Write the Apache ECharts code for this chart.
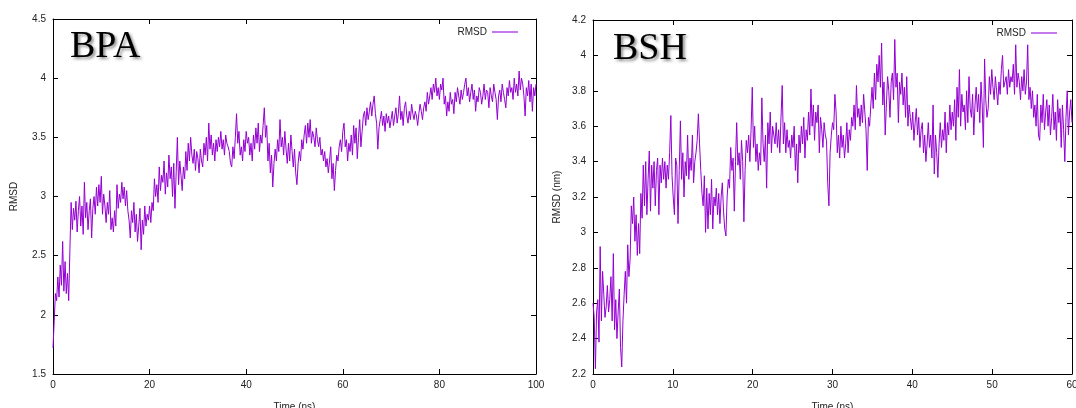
<!DOCTYPE html>
<html>
<head>
<meta charset="utf-8">
<script src="https://cdn.jsdelivr.net/npm/echarts@6/dist/echarts.min.js"></script>
<style>
  html, body { margin: 0; padding: 0; background: #fff; }
  #chart { width: 1076px; height: 408px; }
</style>
</head>
<body>
<div id="chart"></div>
<script>
// RMSD trajectories (nm) sampled at a fixed time step (ns)
const bpaTimeStep = 0.25;
const bpaRmsd = [
  1.72,1.95,2.18,2.12,2.32,2.15,2.42,2.25,2.62,2.2,2.45,2.18,2.35,2.12,2.55,2.95,2.72,2.9,2.8,2.96,
  2.7,2.88,3.0,2.75,2.92,2.68,3.12,2.82,2.95,2.72,2.88,2.98,2.65,2.9,3.0,2.85,3.08,2.92,3.1,2.95,
  3.17,2.85,3.02,2.92,2.78,2.95,2.85,3.05,2.72,2.82,2.7,2.88,2.75,3.1,2.9,3.02,2.95,3.12,2.98,3.08,
  2.92,3.05,2.88,2.8,2.65,2.88,2.78,2.95,2.7,2.85,2.62,2.75,2.9,2.55,2.8,2.68,2.92,2.75,2.85,2.8,
  2.92,2.78,2.95,2.88,3.15,3.0,3.1,2.95,3.25,3.05,3.18,3.12,3.3,3.02,3.2,3.08,3.35,3.15,3.25,3.0,
  3.28,2.9,3.2,3.5,3.1,3.3,3.18,3.05,3.25,3.15,3.38,3.22,3.45,3.3,3.5,3.35,3.28,3.4,3.22,3.38,
  3.32,3.2,3.4,3.3,3.25,3.45,3.35,3.5,3.3,3.62,3.4,3.52,3.35,3.45,3.3,3.48,3.38,3.5,3.42,3.55,
  3.4,3.48,3.35,3.52,3.45,3.42,3.38,3.28,3.25,3.42,3.32,3.5,3.7,3.45,3.55,3.35,3.42,3.3,3.48,3.38,
  3.55,3.45,3.5,3.35,3.45,3.3,3.52,3.4,3.58,3.45,3.62,3.38,3.52,3.45,3.6,3.75,3.5,3.6,3.3,3.45,
  3.2,3.35,3.08,3.28,3.4,3.3,3.48,3.38,3.65,3.42,3.5,3.35,3.55,3.4,3.28,3.45,3.3,3.52,3.38,3.25,
  3.4,3.2,3.1,3.28,3.38,3.3,3.48,3.4,3.52,3.6,3.45,3.62,3.5,3.65,3.45,3.55,3.5,3.42,3.58,3.48,
  3.42,3.5,3.35,3.4,3.3,3.38,3.25,3.32,3.2,3.3,3.42,3.15,3.28,3.05,3.22,3.35,3.3,3.42,3.48,3.38,
  3.55,3.62,3.42,3.48,3.3,3.45,3.38,3.52,3.35,3.6,3.45,3.58,3.32,3.5,3.65,3.42,3.55,3.68,3.72,3.6,
  3.75,3.65,3.72,3.8,3.68,3.78,3.85,3.7,3.62,3.4,3.58,3.65,3.72,3.6,3.68,3.55,3.7,3.62,3.68,3.58,
  3.65,3.72,3.6,3.68,3.75,3.62,3.7,3.85,3.65,3.72,3.6,3.75,3.8,3.68,3.62,3.72,3.65,3.78,3.7,3.65,
  3.72,3.68,3.6,3.7,3.78,3.72,3.65,3.75,3.8,3.72,3.88,3.78,3.85,3.92,3.82,3.95,3.88,4.0,3.85,3.92,
  3.82,3.95,3.9,4.0,3.78,3.85,3.68,3.8,3.72,3.88,3.78,3.82,3.7,3.88,3.8,3.92,3.85,3.78,3.9,3.82,
  3.88,3.95,4.0,3.85,3.92,3.8,3.88,3.95,3.82,3.9,3.72,3.85,3.8,3.92,3.88,3.78,3.85,3.95,3.82,3.9,
  3.88,3.75,3.92,3.85,3.8,3.95,3.88,3.82,3.65,3.85,3.9,3.8,3.95,3.88,3.82,3.75,3.92,3.85,3.98,3.88,
  3.92,3.82,4.0,3.88,3.95,3.85,4.06,3.9,4.0,3.95,3.85,3.68,3.92,3.85,3.98,3.8,3.95,3.72,3.92,3.85,
  3.95
];

const bshTimeStep = 0.15;
const bshRmsd = [
  2.6,2.52,2.23,2.55,2.62,2.38,2.92,2.5,2.78,2.65,2.52,2.58,2.7,2.55,2.62,2.75,2.5,2.88,2.45,2.62,
  2.4,2.55,2.68,2.35,2.24,2.5,2.65,2.78,2.6,2.93,2.75,2.85,3.15,3.05,3.2,2.95,3.1,2.87,3.05,2.88,
  3.22,3.08,3.38,3.15,3.4,3.1,3.3,3.46,3.12,3.38,3.25,3.4,3.15,3.35,3.42,3.1,3.38,3.28,3.42,3.3,
  3.4,3.25,3.38,3.3,3.45,3.66,3.32,3.2,3.1,3.42,3.38,3.05,3.35,3.63,3.3,3.45,3.2,3.4,3.32,3.55,
  3.3,3.42,3.35,3.55,3.28,3.4,3.45,3.52,3.67,3.5,3.35,3.22,3.15,3.32,3.0,3.25,3.02,3.22,3.1,3.3,
  3.02,3.2,3.15,3.25,3.1,3.22,3.05,3.2,3.28,3.12,3.02,2.98,3.2,3.3,3.25,3.48,3.35,3.42,3.12,3.4,
  3.62,3.38,3.45,3.3,3.52,3.4,3.06,3.35,3.52,3.45,3.55,3.4,3.58,3.82,3.48,3.6,3.4,3.5,3.35,3.45,
  3.38,3.76,3.5,3.4,3.55,3.25,3.62,3.5,3.68,3.45,3.6,3.55,3.5,3.62,3.48,3.58,3.45,3.65,3.83,3.5,
  3.62,3.45,3.58,3.48,3.52,3.42,3.55,3.48,3.6,3.35,3.5,3.28,3.55,3.45,3.6,3.5,3.65,3.42,3.58,3.52,
  3.68,3.55,3.81,3.6,3.72,3.52,3.68,3.62,3.72,3.45,3.65,3.58,3.48,3.62,3.55,3.52,3.28,3.15,3.45,3.55,
  3.62,3.58,3.78,3.68,3.45,3.55,3.42,3.6,3.48,3.55,3.42,3.5,3.62,3.45,3.58,3.52,3.65,3.6,3.72,3.58,
  3.83,3.65,3.7,3.6,3.72,3.62,3.78,3.68,3.58,3.35,3.65,3.6,3.72,3.82,3.7,3.9,3.75,3.95,3.85,4.0,
  3.82,4.07,3.72,3.85,3.55,3.72,3.88,3.8,3.65,3.85,3.9,3.75,4.09,3.82,3.9,3.62,3.85,3.78,3.9,3.72,
  3.82,3.65,3.88,3.6,3.72,3.65,3.58,3.68,3.52,3.62,3.7,3.55,3.65,3.48,3.58,3.62,3.45,3.55,3.4,3.5,
  3.62,3.48,3.55,3.42,3.72,3.33,3.55,3.45,3.31,3.5,3.62,3.48,3.58,3.52,3.68,3.45,3.62,3.55,3.72,3.58,
  3.68,3.6,3.75,3.52,3.82,3.65,3.92,3.6,3.78,3.68,3.72,3.58,3.8,3.62,3.88,3.7,3.65,3.78,3.55,3.72,
  3.82,3.68,3.78,3.62,3.85,3.72,3.48,3.98,3.75,3.65,3.7,3.88,3.78,3.92,3.82,3.75,3.88,3.8,3.72,3.85,
  3.78,3.92,4.0,3.82,3.85,3.88,3.78,3.92,3.82,3.88,3.85,3.95,3.78,4.06,3.82,3.9,3.85,3.75,3.88,3.8,
  3.92,3.78,3.85,4.06,3.75,3.82,3.7,3.8,3.65,3.72,3.6,3.78,3.55,3.52,3.72,3.62,3.78,3.58,3.68,3.75,
  3.6,3.72,3.55,3.65,3.78,3.58,3.68,3.52,3.75,3.62,3.7,3.48,3.72,3.58,3.4,3.65,3.8,3.55,3.68,3.75,
  3.62
];

const panelTitles = ['BPA', 'BSH'];
const yAxisNames = ['RMSD', 'RMSD (nm)'];
const xAxisName = 'Time (ns)';
const seriesName = 'RMSD';

const toPairs = (values, step) => values.map((v, i) => [+(i * step).toFixed(3), v]);

const lineColor = '#9400d3';
const fontFamily = 'Liberation Sans, Arial, sans-serif';
const axisFont = { fontFamily, fontSize: 10, color: '#222' };

function panelAxes(gridIndex, xMin, xMax, xInt, yMin, yMax, yInt, yName, yNameGap) {
  const axisLine = { show: true, onZero: false, lineStyle: { color: '#000', width: 1 } };
  const tick = { show: true, inside: true, length: 5, lineStyle: { color: '#000', width: 1 } };
  const nameStyle = { fontFamily, fontSize: 10, color: '#222' };
  const x = [
    { type: 'value', gridIndex, position: 'bottom', min: xMin, max: xMax, interval: xInt,
      axisLine, axisTick: tick, splitLine: { show: false },
      axisLabel: Object.assign({ margin: 6 }, axisFont),
      name: xAxisName, nameLocation: 'middle', nameGap: 28, nameTextStyle: nameStyle },
    { type: 'value', gridIndex, position: 'top', min: xMin, max: xMax, interval: xInt,
      axisLine, axisTick: tick, splitLine: { show: false }, axisLabel: { show: false } }
  ];
  const y = [
    { type: 'value', gridIndex, position: 'left', min: yMin, max: yMax, interval: yInt,
      axisLine, axisTick: tick, splitLine: { show: false },
      axisLabel: Object.assign({ margin: 7 }, axisFont),
      name: yName, nameLocation: 'middle', nameGap: yNameGap, nameRotate: 90, nameTextStyle: nameStyle },
    { type: 'value', gridIndex, position: 'right', min: yMin, max: yMax, interval: yInt,
      axisLine, axisTick: tick, splitLine: { show: false }, axisLabel: { show: false } }
  ];
  return { x, y };
}

const p0 = panelAxes(0, 0, 100, 20, 1.5, 4.5, 0.5, yAxisNames[0], 34);
const p1 = panelAxes(1, 0, 60, 10, 2.2, 4.2, 0.2, yAxisNames[1], 31);

const titleStyle = {
  fontFamily: 'Liberation Serif, Times New Roman, serif', fontSize: 38, fill: '#000',
  textShadowColor: 'rgba(0,0,0,0.45)', textShadowBlur: 3, textShadowOffsetX: 2, textShadowOffsetY: 2
};

const legendBase = {
  data: [seriesName], align: 'right', icon: 'rect', itemWidth: 26, itemHeight: 1.5, itemGap: 4,
  textStyle: { fontFamily, fontSize: 10, color: '#222' }
};

const chart = echarts.init(document.getElementById('chart'), null, { renderer: 'canvas' });
chart.setOption({
  animation: false,
  backgroundColor: '#fff',
  grid: [
    { left: 53, right: 540, top: 19, bottom: 34, outerBoundsMode: 'none' },
    { left: 593, right: 4, top: 20, bottom: 34, outerBoundsMode: 'none' }
  ],
  xAxis: [...p0.x, ...p1.x],
  yAxis: [...p0.y, ...p1.y],
  legend: [
    Object.assign({ right: 553, top: 22 }, legendBase),
    Object.assign({ right: 14, top: 23 }, legendBase)
  ],
  series: [
    { name: seriesName, type: 'line', xAxisIndex: 0, yAxisIndex: 0, data: toPairs(bpaRmsd, bpaTimeStep),
      showSymbol: false, symbol: 'none', lineStyle: { color: lineColor, width: 1 }, itemStyle: { color: '#b14ee6' } },
    { name: seriesName, type: 'line', xAxisIndex: 2, yAxisIndex: 2, data: toPairs(bshRmsd, bshTimeStep),
      showSymbol: false, symbol: 'none', lineStyle: { color: lineColor, width: 1 }, itemStyle: { color: '#b14ee6' } }
  ],
  graphic: [
    { type: 'text', left: 70, top: 28, style: Object.assign({ text: panelTitles[0] }, titleStyle) },
    { type: 'text', left: 613, top: 30, style: Object.assign({ text: panelTitles[1] }, titleStyle) }
  ]
});
</script>
</body>
</html>
